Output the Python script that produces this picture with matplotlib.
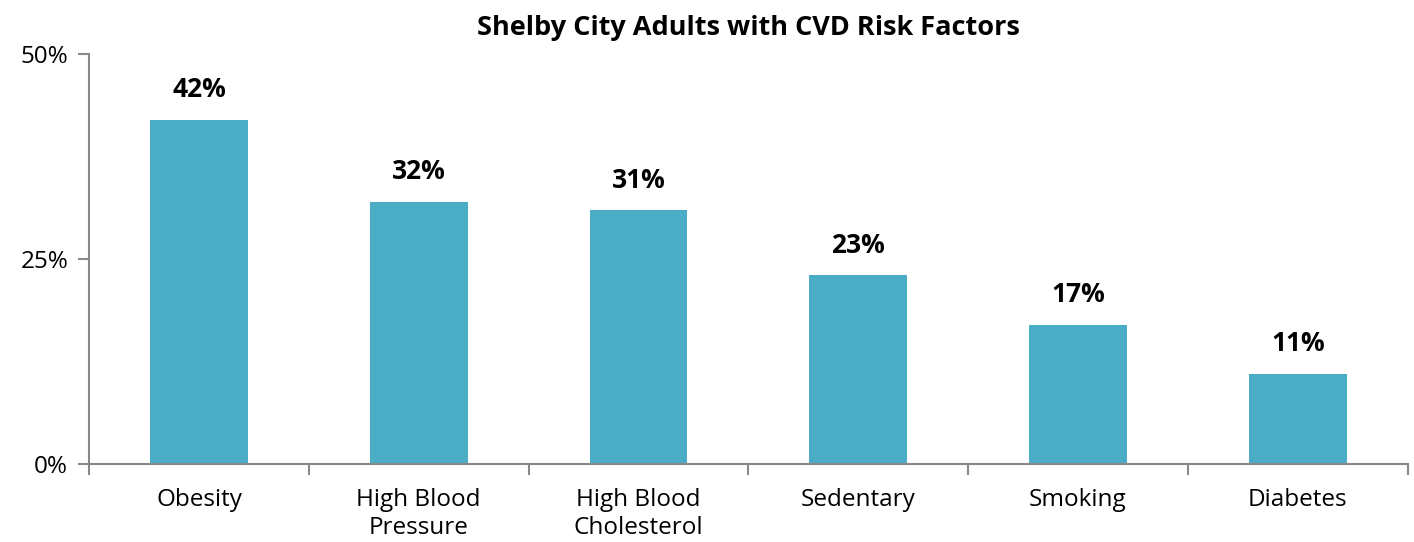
import numpy as np
import matplotlib
matplotlib.use('Agg')
import matplotlib.pyplot as plt
from matplotlib.ticker import FixedLocator, PercentFormatter

plt.rcParams['font.family'] = ['Open Sans', 'DejaVu Sans']

categories = ['Obesity', 'High Blood\nPressure', 'High Blood\nCholesterol',
              'Sedentary', 'Smoking', 'Diabetes']
values = [42, 32, 31, 23, 17, 11]  # 百分比

bar_color = '#4BACC6'
axis_color = '#898989'

fig = plt.figure(figsize=(14.14, 5.42), dpi=100)
ax = fig.add_axes([0.063, 0.144, 0.9325, 0.756])

x = np.arange(len(categories))
bars = ax.bar(x, values, width=0.445, color=bar_color)

for b, v in zip(bars, values):
    ax.text(b.get_x() + b.get_width() / 2, v + 2.0, f'{v}%', ha='center', va='bottom',
            fontsize=19, fontweight='bold')

ax.set_xlim(-0.5, len(categories) - 0.5)
ax.set_ylim(0, 50)
ax.set_yticks([0, 25, 50])
ax.yaxis.set_major_formatter(PercentFormatter(decimals=0))
ax.set_xticks(x)
ax.set_xticklabels(categories, fontsize=17.5, linespacing=1.25)
ax.xaxis.set_minor_locator(FixedLocator(np.arange(-0.5, len(categories), 1)))

ax.tick_params(axis='y', labelsize=17.5, length=8, width=1.5, color=axis_color, pad=7)
ax.tick_params(axis='x', which='major', length=0, pad=17)
ax.tick_params(axis='x', which='minor', length=8, width=1.5, color=axis_color)

for s in ['top', 'right']:
    ax.spines[s].set_visible(False)
for s in ['left', 'bottom']:
    ax.spines[s].set_color(axis_color)
    ax.spines[s].set_linewidth(1.5)

ax.set_title('Shelby City Adults with CVD Risk Factors', fontsize=19.5, fontweight='bold', pad=14)

fig.savefig('out.png', dpi=100)
